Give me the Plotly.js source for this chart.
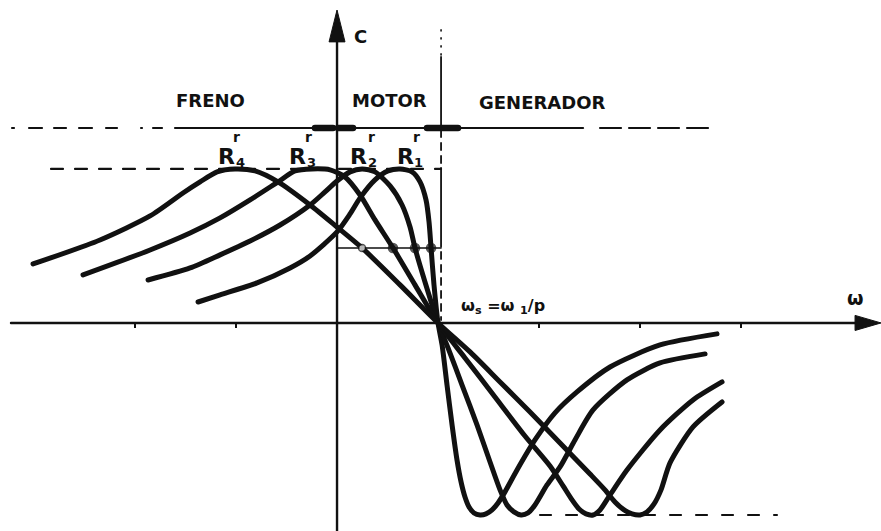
<!DOCTYPE html>
<html>
<head>
<meta charset="utf-8">
<script src="https://cdn.plot.ly/plotly-3.0.1.min.js"></script>
<style>
  html, body { margin: 0; padding: 0; background: #fff; }
  #chart { width: 881px; height: 531px; }
  .js-line { stroke-linecap: round; stroke-linejoin: round; }
</style>
</head>
<body>
<div id="chart"></div>
<script>
// Torque–speed characteristics C(ω) of an induction machine for four rotor resistances.
// ω is expressed in units of the synchronous speed ω_s, C in units of the motoring pull-out torque.

const omegaR1 = [-1.376,-1.158,-0.792,-0.465,-0.267,0,0.129,0.228,0.376,0.505,0.624,0.743,0.822,0.881,0.911,0.931,0.960,1.0,1.040,1.089,1.139,1.188,1.228,1.267,1.307,1.356,1.416,1.475,1.535,1.594,1.663,1.782,1.960,2.158,2.376,2.703,3.198,3.762];
const torqueR1 = [0.136,0.182,0.260,0.357,0.435,0.591,0.708,0.812,0.929,0.987,1.0,0.981,0.916,0.799,0.656,0.487,0.247,0,-0.143,-0.403,-0.662,-0.890,-1.032,-1.130,-1.195,-1.234,-1.247,-1.240,-1.214,-1.169,-1.097,-0.955,-0.760,-0.584,-0.448,-0.286,-0.143,-0.071];

const omegaR2 = [-1.871,-1.455,-1.158,-0.861,-0.564,-0.267,-0.119,0,0.129,0.248,0.376,0.525,0.644,0.723,0.772,0.871,1.0,1.099,1.238,1.386,1.515,1.614,1.683,1.752,1.822,1.891,1.960,2.079,2.208,2.356,2.535,2.871,3.198,3.644];
const torqueR2 = [0.279,0.357,0.442,0.532,0.636,0.766,0.851,0.922,0.981,1.0,0.981,0.890,0.766,0.623,0.487,0.266,0,-0.162,-0.403,-0.662,-0.903,-1.084,-1.182,-1.227,-1.247,-1.234,-1.182,-1.052,-0.935,-0.760,-0.565,-0.370,-0.260,-0.201];

const omegaR3 = [-2.515,-1.851,-1.455,-1.158,-0.861,-0.584,-0.416,-0.248,-0.069,0.079,0.228,0.376,0.554,0.772,1.0,1.267,1.564,1.861,2.109,2.238,2.327,2.396,2.465,2.535,2.604,2.703,2.871,3.198,3.525,3.812];
const torqueR3 = [0.312,0.474,0.584,0.682,0.799,0.916,0.987,1.0,0.994,0.948,0.831,0.669,0.487,0.247,0,-0.227,-0.481,-0.734,-0.929,-1.058,-1.149,-1.208,-1.240,-1.247,-1.214,-1.117,-0.955,-0.695,-0.500,-0.383];

const omegaR4 = [-3.010,-2.347,-1.851,-1.525,-1.356,-1.188,-1.010,-0.812,-0.584,-0.267,0,0.248,0.624,1.0,1.317,1.614,1.911,2.208,2.505,2.653,2.752,2.842,2.921,3.000,3.069,3.139,3.208,3.297,3.525,3.812];
const torqueR4 = [0.383,0.539,0.695,0.844,0.916,0.981,1.0,0.987,0.916,0.766,0.623,0.487,0.247,0,-0.188,-0.383,-0.578,-0.779,-0.981,-1.084,-1.162,-1.214,-1.240,-1.247,-1.227,-1.175,-1.084,-0.909,-0.675,-0.513];

// Operating points where the load torque line meets each characteristic
const loadTorque = 0.487;
const loadPointOmega = [0.248, 0.554, 0.772, 0.931];
const loadLineSpan = [0, 1.03];

// Guide levels
const pullOutMotor = 1.0;
const pullOutMotorSpan = [-2.832, 1.03];
const pullOutGen = -1.247;
const pullOutGenSpan = [2.01, 4.356];
const regionLevel = 1.266;
const regionDashedLeft = [-3.218, -1.703];
const regionSolid = [-1.604, 2.436];
const regionDashedRight = [2.604, 3.713];
const regionBoundaryMarks = [[-0.218, -0.040], [0.010, 0.158], [0.891, 1.198]];

// Vertical line through the synchronous speed
const syncOmega = 1.03;
const syncDotted = [1.903, 1.740];
const syncSolid = [[1.727, 1.273], [1.006, 0.494]];
const syncDashed = [[1.253, 1.013], [0.461, 0.019]];

// Speed ticks (multiples of ω_s)
const speedTicks = [-2, -1, 2, 3, 4];

const xRange = [-3.337, 5.386];
const yRange = [-1.351, 2.097];
const xAxisStart = -3.228;

const ink = '#111';
const traces = [];

function seg(xs, ys, width, dash) {
  traces.push({x: xs, y: ys, mode: 'lines', hoverinfo: 'skip', showlegend: false,
    line: {color: ink, width: width, dash: dash || 'solid'}});
}

// axes
seg([xAxisStart, 5.15], [0, 0], 2.4);
seg([0, 0], [yRange[0], 1.84], 2.4);

// region separator line (braking / motoring / generating)
seg(regionDashedLeft, [regionLevel, regionLevel], 2.2, '2px,15px,13px,12px,12px,13px,13px,14px,11px,24px,1px,11px,9px,60px');
seg(regionSolid, [regionLevel, regionLevel], 2.2);
seg(regionDashedRight, [regionLevel, regionLevel], 2.2, '21px,8px');
regionBoundaryMarks.forEach(m => seg(m, [regionLevel, regionLevel], 6.5));

// pull-out torque levels
seg(pullOutMotorSpan, [pullOutMotor, pullOutMotor], 2.2, '12px,12px');
seg(pullOutGenSpan, [pullOutGen, pullOutGen], 2.2, '11px,15px');

// synchronous speed line
seg([syncOmega, syncOmega], syncDotted, 1.6, '1px,7px');
syncSolid.forEach(s => seg([syncOmega, syncOmega], s, 1.8));
syncDashed.forEach(s => seg([syncOmega, syncOmega], s, 1.8, '7px,6px'));

// load torque line
seg(loadLineSpan, [loadTorque, loadTorque], 1.5);

// torque characteristics
[[omegaR1, torqueR1], [omegaR2, torqueR2], [omegaR3, torqueR3], [omegaR4, torqueR4]].forEach(c => {
  traces.push({x: c[0], y: c[1], mode: 'lines', hoverinfo: 'skip', showlegend: false,
    line: {color: ink, width: 5, shape: 'spline', smoothing: 0.7}});
});

// operating points
traces.push({x: loadPointOmega, y: loadPointOmega.map(() => loadTorque), mode: 'markers',
  hoverinfo: 'skip', showlegend: false,
  marker: {size: [7, 9, 9, 9], color: ['#fff', ink, ink, ink], line: {color: ink, width: 1.6}}});

const f = (size) => ({family: 'DejaVu Sans, sans-serif', size: size, color: ink, weight: 'bold'});
const label = (x, y, text, font) => ({x: x, y: y, xref: 'x', yref: 'y', text: text, showarrow: false,
  xanchor: 'center', yanchor: 'middle', font: font});

const annotations = [
  label(0.233, 1.860, 'C', f(18)),
  label(-1.248, 1.442, 'FRENO', f(18)),
  label(0.515, 1.442, 'MOTOR', f(18)),
  label(2.030, 1.432, 'GENERADOR', f(18)),
  label(5.129, 0.162, 'ω', f(19)),
  label(1.644, 0.110, 'ω<sub>s</sub> =ω <sub>1</sub>/p', f(16))
];

// rotor resistance labels R'_1 … R'_4
const resLabelR = [0.673, 0.208, -0.396, -1.099];
const resLabelSub = [0.802, 0.347, -0.257, -0.960];
const resLabelSup = [0.782, 0.337, -0.287, -1.000];
const resIndex = ['1', '2', '3', '4'];
resIndex.forEach((k, i) => {
  annotations.push(label(resLabelR[i], 1.084, 'R', f(22)));
  annotations.push(label(resLabelSub[i], 1.045, k, f(13)));
  annotations.push(label(resLabelSup[i], 1.205, 'r', f(14)));
});

const shapes = [
  // arrowhead of the torque axis
  {type: 'path', xref: 'x', yref: 'y', path: 'M 0,2.032 L -0.079,1.825 L 0.079,1.825 Z',
   fillcolor: ink, line: {color: ink, width: 1}},
  // arrowhead of the speed axis
  {type: 'path', xref: 'x', yref: 'y', path: 'M 5.386,0 L 5.129,0.049 L 5.129,-0.049 Z',
   fillcolor: ink, line: {color: ink, width: 1}}
];

const layout = {
  width: 881, height: 531,
  margin: {l: 0, r: 0, t: 0, b: 0},
  paper_bgcolor: '#fff', plot_bgcolor: '#fff',
  showlegend: false,
  xaxis: {range: xRange, showgrid: false, zeroline: false, showline: false,
    showticklabels: false, ticks: 'outside', ticklen: 4, tickwidth: 1.5, tickcolor: ink,
    tickmode: 'array', tickvals: speedTicks, anchor: 'free',
    position: (0 - yRange[0]) / (yRange[1] - yRange[0]), fixedrange: true},
  yaxis: {range: yRange, visible: false, fixedrange: true},
  annotations: annotations,
  shapes: shapes
};

Plotly.newPlot('chart', traces, layout, {displayModeBar: false, staticPlot: true});
</script>
</body>
</html>
